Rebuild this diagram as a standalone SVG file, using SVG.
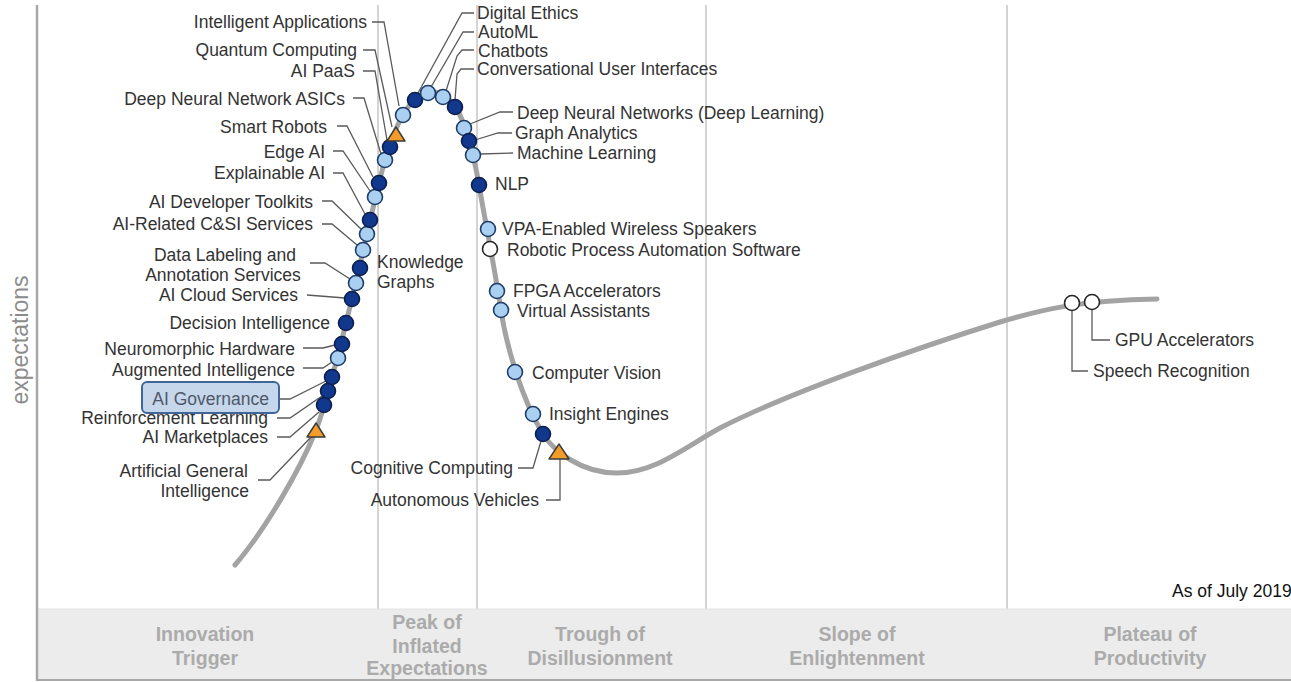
<svg xmlns="http://www.w3.org/2000/svg" width="1291" height="682" viewBox="0 0 1291 682">
<defs>
<style>
.lbl{font-family:"Liberation Sans",Arial,sans-serif;font-size:17.5px;fill:#333}
.e{text-anchor:end}
.m{text-anchor:middle}
.ph{font-family:"Liberation Sans",Arial,sans-serif;font-size:19.5px;font-weight:bold;fill:#ababab;text-anchor:middle}
.dk{fill:#12388e;stroke:#0b1f4f;stroke-width:1.6}
.lt{fill:#a9cff1;stroke:#1e3c68;stroke-width:1.6}
.wh{fill:#fff;stroke:#262626;stroke-width:1.6}
.tri{fill:#f39c2a;stroke:#3a3a3a;stroke-width:1.4;stroke-linejoin:round}
.ld{fill:none;stroke:#5a5a5a;stroke-width:1.3}
.div{stroke:#d4d4d4;stroke-width:2}
</style>
</defs>
<rect width="1291" height="682" fill="#fff"/>
<g id="grid">
<line class="div" x1="378" y1="5" x2="378" y2="609"/>
<line class="div" x1="477" y1="5" x2="477" y2="609"/>
<line class="div" x1="706" y1="5" x2="706" y2="609"/>
<line class="div" x1="1007" y1="5" x2="1007" y2="609"/>
<rect x="38" y="609" width="1253" height="71" fill="#ececec"/>
<line x1="38" y1="609" x2="1291" y2="609" stroke="#e2e2e2" stroke-width="1"/>
<line x1="37" y1="680" x2="1291" y2="680" stroke="#a8a8a8" stroke-width="2"/>
<line x1="37" y1="5" x2="37" y2="681" stroke="#a8a8a8" stroke-width="2.5"/>
<text transform="translate(28,340) rotate(-90)" font-family="'Liberation Sans',Arial,sans-serif" font-size="23" fill="#8c8c8c" text-anchor="middle">expectations</text>
</g>
<g id="phases">
<text class="ph" x="205" y="641">Innovation</text>
<text class="ph" x="205" y="665">Trigger</text>
<text class="ph" x="427" y="629">Peak of</text>
<text class="ph" x="427" y="653">Inflated</text>
<text class="ph" x="427" y="675">Expectations</text>
<text class="ph" x="600" y="641">Trough of</text>
<text class="ph" x="600" y="665">Disillusionment</text>
<text class="ph" x="857" y="641">Slope of</text>
<text class="ph" x="857" y="665">Enlightenment</text>
<text class="ph" x="1150" y="641">Plateau of</text>
<text class="ph" x="1150" y="665">Productivity</text>
</g>
<path id="curve" d="M235,565 C265,530 300,470 316,430 C326,405 338,355 346,323 C354,291 370,220 379,183 C384,162 393,132 403,115 C411,101 420,92 432,92 C442,92 450,99 456,108 C464,120 473,150 479,185 C484,215 495,270 501,310 C506,345 522,400 543,434 C553,450 580,473 617,473 C655,473 685,447 720,428 C790,392 920,347 1000,322 C1040,310 1080,300 1157,299" fill="none" stroke="#a3a3a3" stroke-width="5" stroke-linecap="round"/>
<g id="connectors" class="ld">
<polyline points="372,22 384,22 399,106"/>
<polyline points="363,50 375,50 392,127"/>
<polyline points="363,71 375,71 387,140"/>
<polyline points="353,98 364,98 381,154"/>
<polyline points="337,126 347,126 373,177"/>
<polyline points="333,151 343,151 370,191"/>
<polyline points="333,173 343,173 365,214"/>
<polyline points="322,201 332,201 361,229"/>
<polyline points="322,224 332,224 357,245"/>
<polyline points="310,263 325,263 350,279"/>
<polyline points="307,295 345,298"/>
<polyline points="303,348 323,348 335,345"/>
<polyline points="303,368 323,368 332,362"/>
<polyline points="280,399 290,399 326,381"/>
<polyline points="277,418 290,418 322,396"/>
<polyline points="277,437 290,437 319,412"/>
<polyline points="258,480 270,480 312,436"/>
<polyline points="474,13 462,13 418,93"/>
<polyline points="474,32 463,32 431,87"/>
<polyline points="474,50 462,50 457,56 446,91"/>
<polyline points="474,69 461,69 457,74 455,100"/>
<polyline points="513,112 500,112 470,124"/>
<polyline points="512,133 498,133 475,140"/>
<polyline points="513,153 480,154"/>
<polyline points="518,468 533,468 541,441"/>
<polyline points="546,500 560,500 560,459"/>
<polyline points="1092,309 1092,340 1110,340"/>
<polyline points="1072,310 1072,371 1088,371"/>
</g>
<g id="n-agi"><polygon class="tri" points="316,423 307,437 325,437"/><text class="lbl e" x="248" y="477">Artificial General</text><text class="lbl e" x="249" y="497">Intelligence</text></g>
<g id="n-marketplaces"><circle class="dk" cx="324" cy="405" r="7.5"/><text class="lbl e" x="268" y="443">AI Marketplaces</text></g>
<g id="n-reinforcement"><circle class="dk" cx="328" cy="391" r="7.5"/><text class="lbl e" x="268" y="424">Reinforcement Learning</text></g>
<g id="n-governance"><circle class="dk" cx="332" cy="377" r="7.5"/><rect x="142" y="382" width="137" height="31" rx="5" fill="#c6d7ec" stroke="#3e6699" stroke-width="2"/><text class="lbl e" x="269" y="405" style="fill:#4e5868">AI Governance</text></g>
<g id="n-augmented"><circle class="lt" cx="338" cy="358" r="7.5"/><text class="lbl e" x="295" y="376">Augmented Intelligence</text></g>
<g id="n-neuromorphic"><circle class="dk" cx="342" cy="344" r="7.5"/><text class="lbl e" x="295" y="355">Neuromorphic Hardware</text></g>
<g id="n-decision"><circle class="dk" cx="346" cy="323" r="7.5"/><text class="lbl e" x="330" y="329">Decision Intelligence</text></g>
<g id="n-cloud"><circle class="dk" cx="352" cy="299" r="7.5"/><text class="lbl e" x="298" y="301">AI Cloud Services</text></g>
<g id="n-labeling"><circle class="lt" cx="356" cy="283" r="7.5"/><text class="lbl m" x="225" y="261">Data Labeling and</text><text class="lbl m" x="223" y="281">Annotation Services</text></g>
<g id="n-knowledge"><circle class="dk" cx="360" cy="268" r="7.5"/><text class="lbl" x="377" y="268">Knowledge</text><text class="lbl" x="377" y="288">Graphs</text></g>
<g id="n-csi"><circle class="lt" cx="363" cy="250" r="7.5"/><text class="lbl e" x="313" y="230">AI-Related C&amp;SI Services</text></g>
<g id="n-toolkits"><circle class="lt" cx="367" cy="234" r="7.5"/><text class="lbl e" x="313" y="208">AI Developer Toolkits</text></g>
<g id="n-explainable"><circle class="dk" cx="370" cy="220" r="7.5"/><text class="lbl e" x="325" y="179">Explainable AI</text></g>
<g id="n-edge"><circle class="lt" cx="375" cy="197" r="7.5"/><text class="lbl e" x="325" y="158">Edge AI</text></g>
<g id="n-robots"><circle class="dk" cx="379" cy="183" r="7.5"/><text class="lbl e" x="327" y="133">Smart Robots</text></g>
<g id="n-asics"><circle class="lt" cx="385" cy="160" r="7.5"/><text class="lbl e" x="345" y="105">Deep Neural Network ASICs</text></g>
<g id="n-paas"><circle class="dk" cx="390" cy="147" r="7.5"/><text class="lbl e" x="355" y="77">AI PaaS</text></g>
<g id="n-quantum"><polygon class="tri" points="396,127 387,141 405,141"/><text class="lbl e" x="357" y="56">Quantum Computing</text></g>
<g id="n-intelligent"><circle class="lt" cx="403" cy="115" r="7.5"/><text class="lbl e" x="367" y="28">Intelligent Applications</text></g>
<g id="n-ethics"><circle class="dk" cx="415" cy="100" r="7.5"/><text class="lbl" x="477" y="19">Digital Ethics</text></g>
<g id="n-automl"><circle class="lt" cx="428" cy="93" r="7.5"/><text class="lbl" x="478" y="38">AutoML</text></g>
<g id="n-chatbots"><circle class="lt" cx="443" cy="97" r="7.5"/><text class="lbl" x="478" y="57">Chatbots</text></g>
<g id="n-cui"><circle class="dk" cx="455" cy="107" r="7.5"/><text class="lbl" x="477" y="75">Conversational User Interfaces</text></g>
<g id="n-dnn"><circle class="lt" cx="464" cy="128" r="7.5"/><text class="lbl" x="517" y="119">Deep Neural Networks (Deep Learning)</text></g>
<g id="n-graph"><circle class="dk" cx="469" cy="141" r="7.5"/><text class="lbl" x="515" y="139">Graph Analytics</text></g>
<g id="n-ml"><circle class="lt" cx="473" cy="155" r="7.5"/><text class="lbl" x="517" y="159">Machine Learning</text></g>
<g id="n-nlp"><circle class="dk" cx="479" cy="185" r="7.5"/><text class="lbl" x="495" y="190">NLP</text></g>
<g id="n-vpa"><circle class="lt" cx="488" cy="229" r="7.5"/><text class="lbl" x="502" y="235">VPA-Enabled Wireless Speakers</text></g>
<g id="n-rpa"><circle class="wh" cx="490" cy="249" r="7.5"/><text class="lbl" x="507" y="256">Robotic Process Automation Software</text></g>
<g id="n-fpga"><circle class="lt" cx="497" cy="291" r="7.5"/><text class="lbl" x="513" y="297">FPGA Accelerators</text></g>
<g id="n-va"><circle class="lt" cx="501" cy="310" r="7.5"/><text class="lbl" x="517" y="317">Virtual Assistants</text></g>
<g id="n-cv"><circle class="lt" cx="515" cy="372" r="7.5"/><text class="lbl" x="532" y="379">Computer Vision</text></g>
<g id="n-insight"><circle class="lt" cx="533" cy="414" r="7.5"/><text class="lbl" x="549" y="420">Insight Engines</text></g>
<g id="n-cognitive"><circle class="dk" cx="543" cy="434" r="7.5"/><text class="lbl e" x="513" y="474">Cognitive Computing</text></g>
<g id="n-autonomous"><polygon class="tri" points="559,444 549,459 569,459"/><text class="lbl e" x="539" y="506">Autonomous Vehicles</text></g>
<g id="n-speech"><circle class="wh" cx="1072" cy="303" r="7.5"/><text class="lbl" x="1093" y="377">Speech Recognition</text></g>
<g id="n-gpu"><circle class="wh" cx="1092" cy="302" r="7.5"/><text class="lbl" x="1115" y="346">GPU Accelerators</text></g>
<text class="lbl" x="1172" y="597" style="fill:#111;font-size:17.5px">As of July 2019</text>
</svg>
